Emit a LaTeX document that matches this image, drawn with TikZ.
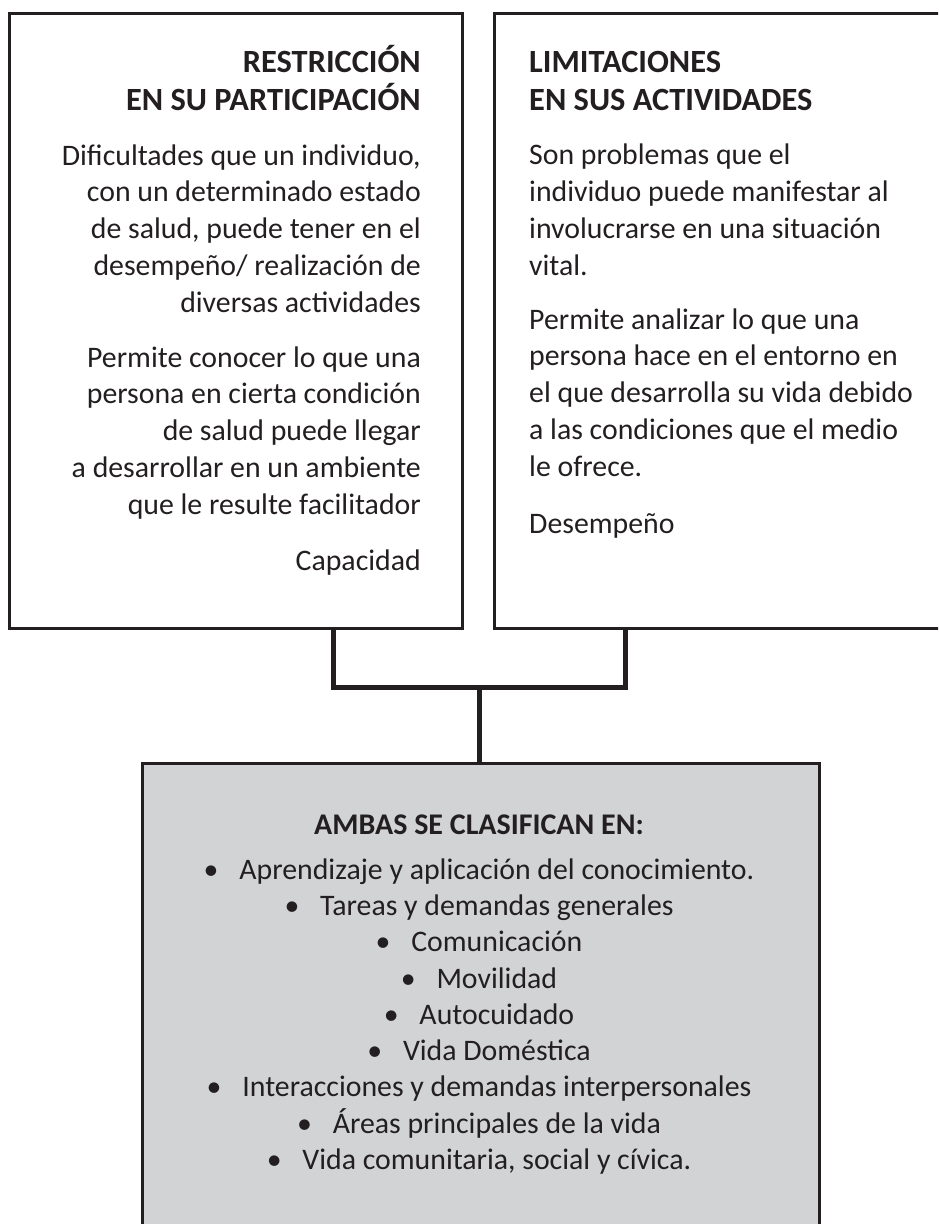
\documentclass[tikz,border=0pt]{standalone}
\usepackage{fontspec}
\setmainfont{Carlito}
\definecolor{tinta}{HTML}{231F20}
\definecolor{grisfondo}{HTML}{D1D3D4}
\newcommand{\vineta}{\textbullet\hspace{0.7em}}
\tikzset{
  marco/.style={draw=tinta, line width=3pt, inner sep=0pt, anchor=north west},
  enlace/.style={draw=tinta, line width=5pt, line join=miter},
  titulo/.style={font=\bfseries\fontsize{32.4}{37.5}\selectfont, text=tinta, inner sep=0pt},
  cuerpo/.style={font=\fontsize{29.8}{36.7}\selectfont, text=tinta, inner sep=0pt},
}
\begin{document}
\begin{tikzpicture}[x=1pt, y=-1pt]
    \useasboundingbox (0,0) rectangle (938,1224);
    \clip (0,0) rectangle (938,1224);
    % las tres cajas
    \node [marco, minimum width=453pt, minimum height=615pt] (restr) at (8,12) {};
    \node [marco, minimum width=470pt, minimum height=615pt] (limit) at (493,12) {};
    \node [marco, fill=grisfondo, minimum width=677pt, minimum height=500pt] (ambas) at (141,762) {};

    % conectores
    \coordinate (codoI) at (333,687);
    \coordinate (codoD) at (625,687);
    \coordinate (union) at (479,687);
    \draw [enlace] (codoI |- restr.south) -- (codoI) -- (codoD) -- (codoD |- limit.south);
    \draw [enlace] (union) -- (union |- ambas.north);

    % caja izquierda (base = ultima linea)
    \node [titulo, anchor=base east, align=right] (titRestr) at (421,110) {RESTRICCIÓN\\EN SU PARTICIPACIÓN};
    \node [cuerpo, anchor=base east, align=right] (defRestr) at (421,312) {Dificultades que un individuo,\\con un determinado estado\\de salud, puede tener en el\\desempeño/ realización de\\diversas actividades};
    \node [cuerpo, anchor=base east, align=right] (usoRestr) at (421,514) {Permite conocer lo que una\\persona en cierta condición\\de salud puede llegar\\a desarrollar en un ambiente\\que le resulte facilitador};
    \node [cuerpo, anchor=base east] (capac) at (421,570) {Capacidad};

    % caja derecha
    \node [titulo, anchor=base west, align=left] (titLimit) at (529,110) {LIMITACIONES\\EN SUS ACTIVIDADES};
    \node [cuerpo, anchor=base west, align=left] (defLimit) at (529,275) {Son problemas que el\\individuo puede manifestar al\\involucrarse en una situación\\vital.};
    \node [cuerpo, anchor=base west, align=left] (usoLimit) at (529,476) {Permite analizar lo que una\\persona hace en el entorno en\\el que desarrolla su vida debido\\a las condiciones que el medio\\le ofrece.};
    \node [cuerpo, anchor=base west] (desemp) at (529,533) {Desempeño};

    % caja inferior
    \node [titulo, font=\bfseries\fontsize{30}{36}\selectfont, anchor=base] (titAmbas) at (479,834) {AMBAS SE CLASIFICAN EN:};
    \node [cuerpo, font=\fontsize{29.8}{36.3}\selectfont, anchor=base, align=center] (lista) at (479,1169.5) {\vineta Aprendizaje y aplicación del conocimiento.\\
        \vineta Tareas y demandas generales\\
        \vineta Comunicación\\
        \vineta Movilidad\\
        \vineta Autocuidado\\
        \vineta Vida Doméstica\\
        \vineta Interacciones y demandas interpersonales\\
        \vineta Áreas principales de la vida\\
        \vineta Vida comunitaria, social y cívica.};
\end{tikzpicture}
\end{document}
